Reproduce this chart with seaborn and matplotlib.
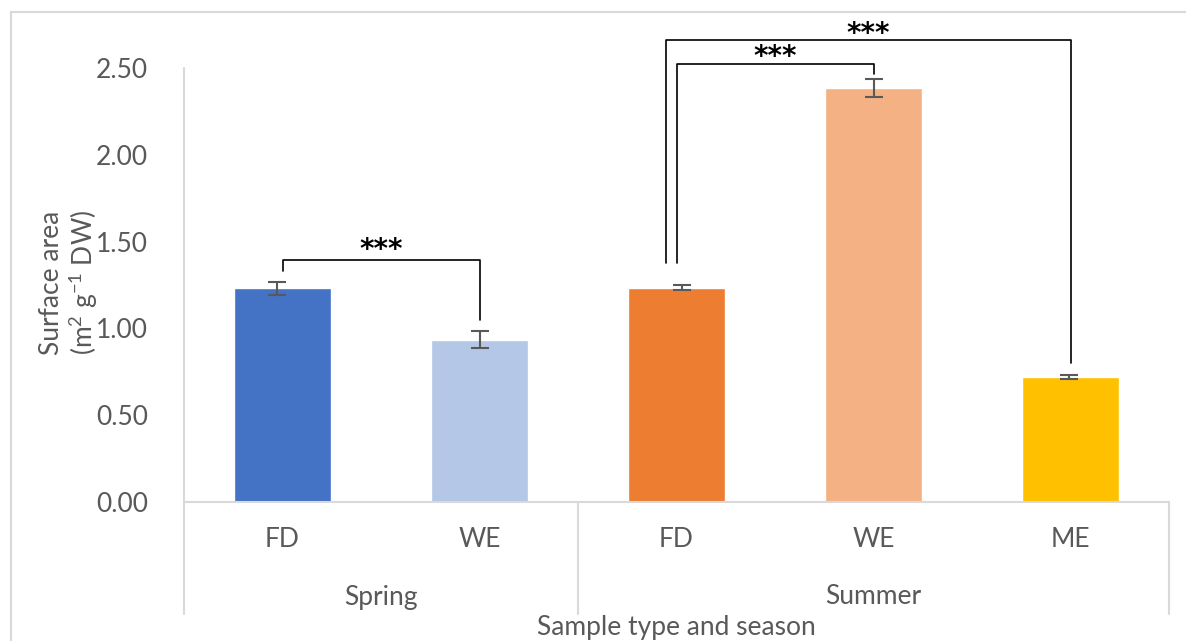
import matplotlib
matplotlib.use("Agg")
import matplotlib.pyplot as plt
import matplotlib.transforms as mtransforms
from matplotlib.lines import Line2D
import seaborn as sns
import pandas as pd

# ---- data ----
seasons = ["Spring", "Spring", "Summer", "Summer", "Summer"]
sample_types = ["FD", "WE", "FD", "WE", "ME"]
values = [1.23, 0.935, 1.235, 2.385, 0.72]
errors = [0.04, 0.05, 0.015, 0.05, 0.012]
colors = ["#4472C4", "#B4C7E7", "#ED7D31", "#F4B183", "#FFC000"]
season_names = ["Spring", "Summer"]
y_ticks = [0.0, 0.5, 1.0, 1.5, 2.0, 2.5]
# significance brackets: (i, j, y_line, y_left_bottom, y_right_bottom, label)
brackets = [
    (0, 1, 1.394, 1.33, 1.05, "***"),
    (2, 3, 2.523, 1.377, 2.465, "***"),
    (2, 4, 2.661, 1.377, 0.80, "***"),
]

sns.set_theme(style="white")
plt.rcParams["font.family"] = ["Lato", "DejaVu Sans"]
plt.rcParams["mathtext.default"] = "regular"

GRAY = "#595959"
LINE = "#D9D9D9"
FS = 19

keys = [f"{s} {t}" for s, t in zip(seasons, sample_types)]
df = pd.DataFrame({"key": keys, "value": values})

fig = plt.figure(figsize=(11.86, 6.41), dpi=100)
ax = fig.add_axes([184 / 1186, 1 - 502 / 641, 985 / 1186, 434 / 641])

sns.barplot(data=df, x="key", y="value", hue="key", palette=colors,
            width=0.49, legend=False, ax=ax, saturation=1, order=keys)
xpos = list(range(len(keys)))
off = [-0.03, 0, 0.03, 0, -0.01]
ax.errorbar([x + o for x, o in zip(xpos, off)], values, yerr=errors, fmt="none",
            ecolor=GRAY, elinewidth=1.5, capsize=6.5, capthick=1.5, zorder=5)

ax.set_ylim(0, 2.5)
ax.set_xlim(-0.5, len(keys) - 0.5)
ax.set_yticks(y_ticks)
ax.set_yticklabels([f"{v:.2f}" for v in y_ticks], color=GRAY, fontsize=FS)
ax.tick_params(axis="y", length=0, pad=26)
ax.set_xticks(xpos)
ax.set_xticklabels(sample_types, color=GRAY, fontsize=FS)
ax.tick_params(axis="x", length=0, pad=18)
ax.set_xlabel("")
ax.set_ylabel("Surface area\n(m$^{2}$ g$^{-1}$ DW)", color=GRAY, fontsize=FS,
              linespacing=1.15)
ax.yaxis.set_label_coords(-0.085, 0.505)

for s in ["top", "right", "left", "bottom"]:
    ax.spines[s].set_visible(False)

# Excel-style axis lines
trans = mtransforms.blended_transform_factory(ax.transData, ax.transAxes)
ax.add_line(Line2D([-0.5, 4.5], [0, 0], transform=trans, color=LINE, lw=1.5, clip_on=False))
low = -112 / 434
for xs in [-0.5, 1.5, 4.5]:
    ax.add_line(Line2D([xs, xs], [0, low], transform=trans, color=LINE, lw=1.5, clip_on=False))
ax.add_line(Line2D([-0.5, -0.5], [0, 1], transform=trans, color=LINE, lw=1.5, clip_on=False))

# season labels
for name in season_names:
    idx = [i for i, s in enumerate(seasons) if s == name]
    cx = (idx[0] + idx[-1]) / 2
    ax.text(cx, -95 / 434, name, transform=trans, ha="center", va="center",
            color=GRAY, fontsize=FS)

ax.text(0.5, -126 / 434, "Sample type and season", transform=ax.transAxes,
        ha="center", va="center", color=GRAY, fontsize=FS)

# brackets
star_gap = [0.058, 0.04, 0.035]
for k, (i, j, yl, yb1, yb2, lab) in enumerate(brackets):
    xi = i + (-0.055 if (i == 2 and j == 4) else 0.0)
    xj = j
    ax.plot([xi, xi, xj, xj], [yb1, yl, yl, yb2], color="black", lw=1.2,
            clip_on=False, zorder=6)
    ax.text((xi + xj) / 2, yl + star_gap[k], lab, ha="center", va="center",
            fontsize=20, fontweight="bold", color="black", clip_on=False,
            family="DejaVu Sans", zorder=7)

# outer chart border
fig.add_artist(Line2D([11 / 1186, 11 / 1186], [0, 1 - 12 / 641],
                      transform=fig.transFigure, color=LINE, lw=1.5))
fig.add_artist(Line2D([11 / 1186, 1], [1 - 12 / 641, 1 - 12 / 641],
                      transform=fig.transFigure, color=LINE, lw=1.5))

fig.savefig("out.png", dpi=100, facecolor="white")
